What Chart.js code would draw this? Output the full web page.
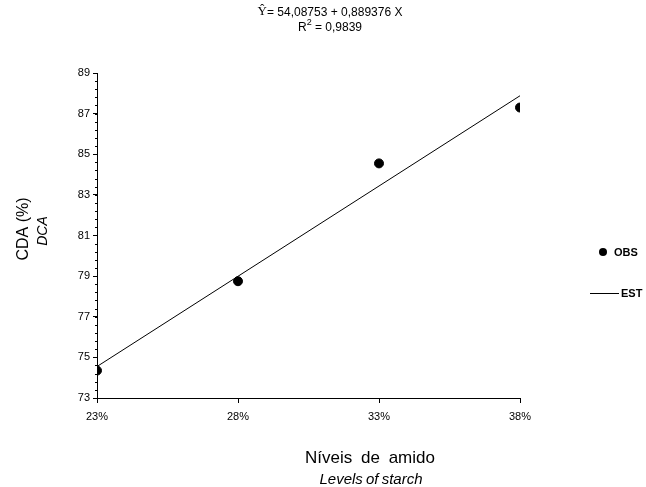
<!DOCTYPE html>
<html>
<head>
<meta charset="utf-8">
<script src="https://cdn.jsdelivr.net/npm/chart.js@4.4.0/dist/chart.umd.min.js"></script>
<style>
  html, body { margin: 0; padding: 0; background: #fff; }
  #wrap { width: 646px; height: 487px; }
</style>
</head>
<body>
<div id="wrap"><canvas id="chart" width="646" height="487"></canvas></div>
<script>
// niveis de amido (%)
const levels = [23, 28, 33, 38];
// CDA observado
const obsValues = [74.35, 78.75, 84.55, 87.3];
// reta estimada, lida nas extremidades
const estLevels = [23, 38];
const estValues = [74.55, 87.88];

const equationText = '= 54,08753 + 0,889376 X';
const r2Text = ' = 0,9839';

const black = '#000';

// textos extras: equacao, titulos dos eixos, legenda, tracos menores
const extras = {
  id: 'extras',
  afterDraw(chart) {
    const ctx = chart.ctx;
    const y = chart.scales.y;
    const area = chart.chartArea;
    ctx.save();
    ctx.fillStyle = black;
    ctx.strokeStyle = black;

    // tracos menores do eixo y
    ctx.lineWidth = 1;
    for (let v = 73; v <= 89.001; v += 0.4) {
      const py = Math.round(y.getPixelForValue(v)) + 0.5;
      ctx.beginPath();
      ctx.moveTo(area.left - 2, py);
      ctx.lineTo(area.left, py);
      ctx.stroke();
    }

    // equacao
    ctx.textBaseline = 'middle';
    ctx.font = '12px "Liberation Sans", Arial, sans-serif';
    const w1 = ctx.measureText(equationText).width;
    ctx.font = '13px "Liberation Serif", serif';
    const wY = ctx.measureText('Ŷ').width;
    let x0 = 330 - (w1 + wY) / 2;
    ctx.textAlign = 'left';
    ctx.fillText('Ŷ', x0, 12);
    ctx.font = '12px "Liberation Sans", Arial, sans-serif';
    ctx.fillText(equationText, x0 + wY, 13);

    const wR = ctx.measureText('R').width;
    const wr2 = ctx.measureText(r2Text).width;
    ctx.font = '9px "Liberation Sans", Arial, sans-serif';
    const w2 = ctx.measureText('2').width;
    x0 = 330 - (wR + w2 + wr2) / 2;
    ctx.font = '12px "Liberation Sans", Arial, sans-serif';
    ctx.fillText('R', x0, 28);
    ctx.font = '9px "Liberation Sans", Arial, sans-serif';
    ctx.fillText('2', x0 + wR, 23);
    ctx.font = '12px "Liberation Sans", Arial, sans-serif';
    ctx.fillText(r2Text, x0 + wR + w2, 28);

    // titulo eixo y
    ctx.save();
    ctx.translate(24, 229);
    ctx.rotate(-Math.PI / 2);
    ctx.textAlign = 'center';
    ctx.font = '16px "Liberation Sans", Arial, sans-serif';
    ctx.fillText('CDA (%)', 0, 0);
    ctx.restore();
    ctx.save();
    ctx.translate(43, 231);
    ctx.rotate(-Math.PI / 2);
    ctx.textAlign = 'center';
    ctx.font = 'italic 14px "Liberation Sans", Arial, sans-serif';
    ctx.fillText('DCA', 0, 0);
    ctx.restore();

    // titulo eixo x
    ctx.textAlign = 'center';
    ctx.font = '17px "Liberation Sans", Arial, sans-serif';
    ctx.wordSpacing = '4px';
    ctx.fillText('Níveis de amido', 370, 458);
    ctx.wordSpacing = '-1px';
    ctx.font = 'italic 15px "Liberation Sans", Arial, sans-serif';
    ctx.fillText('Levels of starch', 371, 480);
    ctx.wordSpacing = '0px';

    // legenda
    ctx.textAlign = 'left';
    ctx.font = 'bold 11px "Liberation Sans", Arial, sans-serif';
    ctx.beginPath();
    ctx.arc(603, 252, 4, 0, Math.PI * 2);
    ctx.fill();
    ctx.fillText(chart.data.datasets[0].label, 614, 253);
    ctx.beginPath();
    ctx.moveTo(590, 293.5);
    ctx.lineTo(619, 293.5);
    ctx.stroke();
    ctx.fillText(chart.data.datasets[1].label, 621, 294);

    ctx.restore();
  }
};

new Chart(document.getElementById('chart').getContext('2d'), {
  type: 'scatter',
  data: {
    datasets: [
      {
        label: 'OBS',
        data: levels.map((l, i) => ({ x: l, y: obsValues[i] })),
        backgroundColor: black,
        borderColor: black,
        pointRadius: 4.5,
        showLine: false,
        order: 0,
      },
      {
        label: 'EST',
        data: estLevels.map((l, i) => ({ x: l, y: estValues[i] })),
        borderColor: black,
        borderWidth: 1,
        pointRadius: 0,
        showLine: true,
        order: 1,
      },
    ],
  },
  options: {
    responsive: false,
    animation: false,
    layout: {
      padding: { left: 57, top: 73, right: 126, bottom: 59 },
    },
    scales: {
      x: {
        type: 'linear',
        min: 23,
        max: 38,
        afterFit: (scale) => { scale.height = 30; },
        ticks: {
          stepSize: 5,
          color: black,
          padding: 7,
          maxRotation: 0,
          font: { family: '"Liberation Sans", Arial, sans-serif', size: 11 },
          callback: (v) => v + '%',
        },
        grid: { drawOnChartArea: false, tickLength: 5, color: black },
        border: { color: black, width: 1 },
      },
      y: {
        min: 73,
        max: 89,
        afterFit: (scale) => { scale.width = 40; },
        ticks: {
          stepSize: 2,
          color: black,
          padding: 3,
          font: { family: '"Liberation Sans", Arial, sans-serif', size: 11 },
        },
        grid: { drawOnChartArea: false, tickLength: 4, color: black },
        border: { color: black, width: 1 },
      },
    },
    plugins: {
      legend: { display: false },
      tooltip: { enabled: false },
    },
  },
  plugins: [extras],
});
</script>
</body>
</html>
